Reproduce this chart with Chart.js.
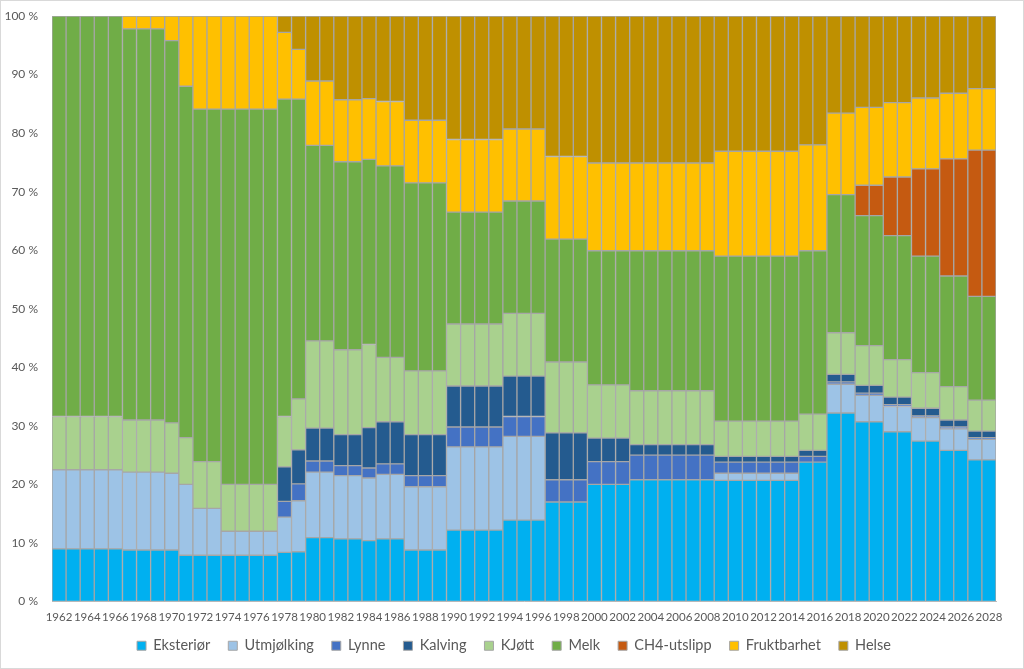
<!DOCTYPE html>
<html>
<head>
<meta charset="utf-8">
<script src="https://cdn.jsdelivr.net/npm/chart.js@4/dist/chart.umd.min.js"></script>
<style>
  html, body { margin: 0; padding: 0; background: #fff; }
  #wrap { width: 1024px; height: 669px; position: relative; }
</style>
</head>
<body>
<div id="wrap"><canvas id="chart" width="1024" height="669"></canvas></div>
<script>
// years 1962..2028
const years = [
  1962,1963,1964,1965,1966,1967,1968,1969,1970,1971,1972,1973,1974,1975,1976,1977,1978,1979,1980,1981,
  1982,1983,1984,1985,1986,1987,1988,1989,1990,1991,1992,1993,1994,1995,1996,1997,1998,1999,2000,2001,
  2002,2003,2004,2005,2006,2007,2008,2009,2010,2011,2012,2013,2014,2015,2016,2017,2018,2019,2020,2021,
  2022,2023,2024,2025,2026,2027,2028
];

// share of each trait per year (%)
const eksterior = [
  9.0,9.0,9.0,9.0,9.0, 8.8,8.8,8.8, 8.8, 7.9, 7.9,7.9, 7.9,7.9,7.9,7.9, 8.4, 8.5, 10.9,10.9,
  10.7,10.7, 10.4, 10.7,10.7, 8.8,8.8,8.8, 12.2,12.2,12.2,12.2, 13.9,13.9,13.9, 17.0,17.0,17.0, 20.0,20.0,
  20.0, 20.8,20.8,20.8,20.8,20.8,20.8, 20.7,20.7,20.7,20.7,20.7,20.7, 23.8,23.8, 32.2,32.2, 30.7,30.7, 29.0,
  29.0, 27.4,27.4, 25.8,25.8, 24.2,24.2
];
const utmjolking = [
  13.5,13.5,13.5,13.5,13.5, 13.3,13.3,13.3, 13.1, 12.1, 8.0,8.0, 4.1,4.1,4.1,4.1, 6.0, 8.7, 11.2,11.2,
  10.8,10.8, 10.7, 11.0,11.0, 10.8,10.8,10.8, 14.2,14.2,14.2,14.2, 14.3,14.3,14.3, 0,0,0, 0,0,
  0, 0,0,0,0,0,0, 1.2,1.2,1.2,1.2,1.2,1.2, 0,0, 4.9,4.9, 4.5,4.5, 4.3,
  4.3, 4.0,4.0, 3.7,3.7, 3.5,3.5
];
const lynne = [
  0,0,0,0,0, 0,0,0, 0, 0, 0,0, 0,0,0,0, 2.7, 2.9, 1.9,1.9,
  1.7,1.7, 1.7, 1.8,1.8, 1.9,1.9,1.9, 3.4,3.4,3.4,3.4, 3.4,3.4,3.4, 3.8,3.8,3.8, 3.9,3.9,
  3.9, 4.2,4.2,4.2,4.2,4.2,4.2, 1.9,1.9,1.9,1.9,1.9,1.9, 1.0,1.0, 0.4,0.4, 0.4,0.4, 0.3,
  0.3, 0.3,0.3, 0.3,0.3, 0.3,0.3
];
const kalving = [
  0,0,0,0,0, 0,0,0, 0, 0, 0,0, 0,0,0,0, 5.9, 5.8, 5.6,5.6,
  5.3,5.3, 6.9, 7.2,7.2, 7.0,7.0,7.0, 7.0,7.0,7.0,7.0, 6.9,6.9,6.9, 8.0,8.0,8.0, 4.0,4.0,
  4.0, 1.8,1.8,1.8,1.8,1.8,1.8, 1.0,1.0,1.0,1.0,1.0,1.0, 1.0,1.0, 1.3,1.3, 1.3,1.3, 1.3,
  1.3, 1.3,1.3, 1.2,1.2, 1.1,1.1
];
const kjott = [
  9.1,9.1,9.1,9.1,9.1, 8.9,8.9,8.9, 8.6, 8.0, 8.0,8.0, 8.0,8.0,8.0,8.0, 8.6, 8.7, 14.9,14.9,
  14.5,14.5, 14.2, 11.0,11.0, 10.9,10.9,10.9, 10.6,10.6,10.6,10.6, 10.7,10.7,10.7, 12.1,12.1,12.1, 9.1,9.1,
  9.1, 9.2,9.2,9.2,9.2,9.2,9.2, 6.0,6.0,6.0,6.0,6.0,6.0, 6.2,6.2, 7.1,7.1, 6.8,6.8, 6.4,
  6.4, 6.1,6.1, 5.7,5.7, 5.3,5.3
];
const melk = [
  68.4,68.4,68.4,68.4,68.4, 66.8,66.8,66.8, 65.3, 60.0, 60.2,60.2, 64.1,64.1,64.1,64.1, 54.2, 51.2, 33.4,33.4,
  32.1,32.1, 31.6, 32.7,32.7, 32.1,32.1,32.1, 19.1,19.1,19.1,19.1, 19.2,19.2,19.2, 21.0,21.0,21.0, 22.9,22.9,
  22.9, 23.9,23.9,23.9,23.9,23.9,23.9, 28.2,28.2,28.2,28.2,28.2,28.2, 27.9,27.9, 23.6,23.6, 22.2,22.2, 21.2,
  21.2, 19.9,19.9, 18.9,18.9, 17.7,17.7
];
const ch4 = [
  0,0,0,0,0, 0,0,0, 0, 0, 0,0, 0,0,0,0, 0, 0, 0,0,
  0,0, 0, 0,0, 0,0,0, 0,0,0,0, 0,0,0, 0,0,0, 0,0,
  0, 0,0,0,0,0,0, 0,0,0,0,0,0, 0,0, 0,0, 5.2,5.2, 10.0,
  10.0, 14.9,14.9, 20.0,20.0, 25.0,25.0
];
const fruktbarhet = [
  0,0,0,0,0, 2.2,2.2,2.2, 4.2, 12.0, 15.9,15.9, 15.9,15.9,15.9,15.9, 11.4, 8.5, 11.0,11.0,
  10.6,10.6, 10.4, 11.0,11.0, 10.7,10.7,10.7, 12.4,12.4,12.4,12.4, 12.3,12.3,12.3, 14.1,14.1,14.1, 15.0,15.0,
  15.0, 15.0,15.0,15.0,15.0,15.0,15.0, 17.9,17.9,17.9,17.9,17.9,17.9, 18.1,18.1, 13.9,13.9, 13.3,13.3, 12.7,
  12.7, 12.1,12.1, 11.2,11.2, 10.5,10.5
];
const helse = [
  0,0,0,0,0, 0,0,0, 0, 0, 0,0, 0,0,0,0, 2.8, 5.7, 11.1,11.1,
  14.3,14.3, 14.1, 14.6,14.6, 17.8,17.8,17.8, 21.1,21.1,21.1,21.1, 19.3,19.3,19.3, 24.0,24.0,24.0, 25.1,25.1,
  25.1, 25.1,25.1,25.1,25.1,25.1,25.1, 23.1,23.1,23.1,23.1,23.1,23.1, 22.0,22.0, 16.6,16.6, 15.6,15.6, 14.8,
  14.8, 14.0,14.0, 13.2,13.2, 12.4,12.4
];

const seriesNames = ['Eksteriør', 'Utmjølking', 'Lynne', 'Kalving', 'KJøtt', 'Melk', 'CH4-utslipp', 'Fruktbarhet', 'Helse'];
const seriesData = [eksterior, utmjolking, lynne, kalving, kjott, melk, ch4, fruktbarhet, helse];
const seriesColors = ['#00B0F0', '#9DC3E6', '#4472C4', '#245B8F', '#A9D18E', '#70AD47', '#C55A11', '#FFC000', '#BF9000'];

const yTicks = [0, 10, 20, 30, 40, 50, 60, 70, 80, 90, 100];

const FONT = 'Lato, "Open Sans", sans-serif';
const TEXT = '#595959';

// normalise each year to 100 % like a 100 % stacked column
const totals = years.map((_, i) => seriesData.reduce((s, arr) => s + arr[i], 0));

const datasets = seriesNames.map((name, k) => ({
  label: name,
  data: seriesData[k].map((v, i) => v === 0 ? null : v / totals[i] * 100),
  backgroundColor: seriesColors[k],
  borderColor: '#A6A6A6',
  borderWidth: 1,
  borderSkipped: false,
  categoryPercentage: 1.0,
  barPercentage: 1.0
}));

// light frame round the whole chart
const framePlugin = {
  id: 'frame',
  afterDraw(chart) {
    const ctx = chart.ctx;
    ctx.save();
    ctx.strokeStyle = '#D9D9D9';
    ctx.lineWidth = 1;
    ctx.strokeRect(0.5, 0.5, chart.width - 1, chart.height - 1);
    ctx.restore();
  }
};

// nudge the legend a little up and right, like the original
const legendShift = {
  id: 'legendShift',
  afterLayout(chart) {
    const lg = chart.legend;
    if (!lg) return;
    lg.left += 16; lg.right += 16;
    lg.top -= 6; lg.bottom -= 6;
  }
};

new Chart(document.getElementById('chart'), {
  type: 'bar',
  data: { labels: years, datasets: datasets },
  plugins: [framePlugin, legendShift],
  options: {
    responsive: false,
    animation: false,
    layout: { padding: { top: 16, right: 28, left: 0, bottom: 0 } },
    scales: {
      x: {
        stacked: true,
        afterFit(scale) { scale.height = 25; },
        grid: { display: false },
        border: { display: true, color: '#BFBFBF' },
        ticks: {
          autoSkip: false,
          maxRotation: 0,
          minRotation: 0,
          color: TEXT,
          font: { family: FONT, size: 11.5 },
          padding: 1,
          callback: function (val, idx) {
            return idx % 2 === 0 ? this.getLabelForValue(val) : '';
          }
        }
      },
      y: {
        stacked: true,
        min: 0,
        max: 100,
        afterFit(scale) { scale.width = 52; },
        afterBuildTicks(scale) { scale.ticks = yTicks.map(v => ({ value: v })); },
        grid: { display: false },
        border: { display: false },
        ticks: {
          color: TEXT,
          font: { family: FONT, size: 12 },
          padding: 6,
          callback: v => v + ' %'
        }
      }
    },
    plugins: {
      legend: {
        position: 'bottom',
        labels: {
          boxWidth: 9,
          boxHeight: 9,
          padding: 18,
          color: TEXT,
          font: { family: FONT, size: 14.5 }
        }
      },
      tooltip: { enabled: false }
    }
  }
});
</script>
</body>
</html>
